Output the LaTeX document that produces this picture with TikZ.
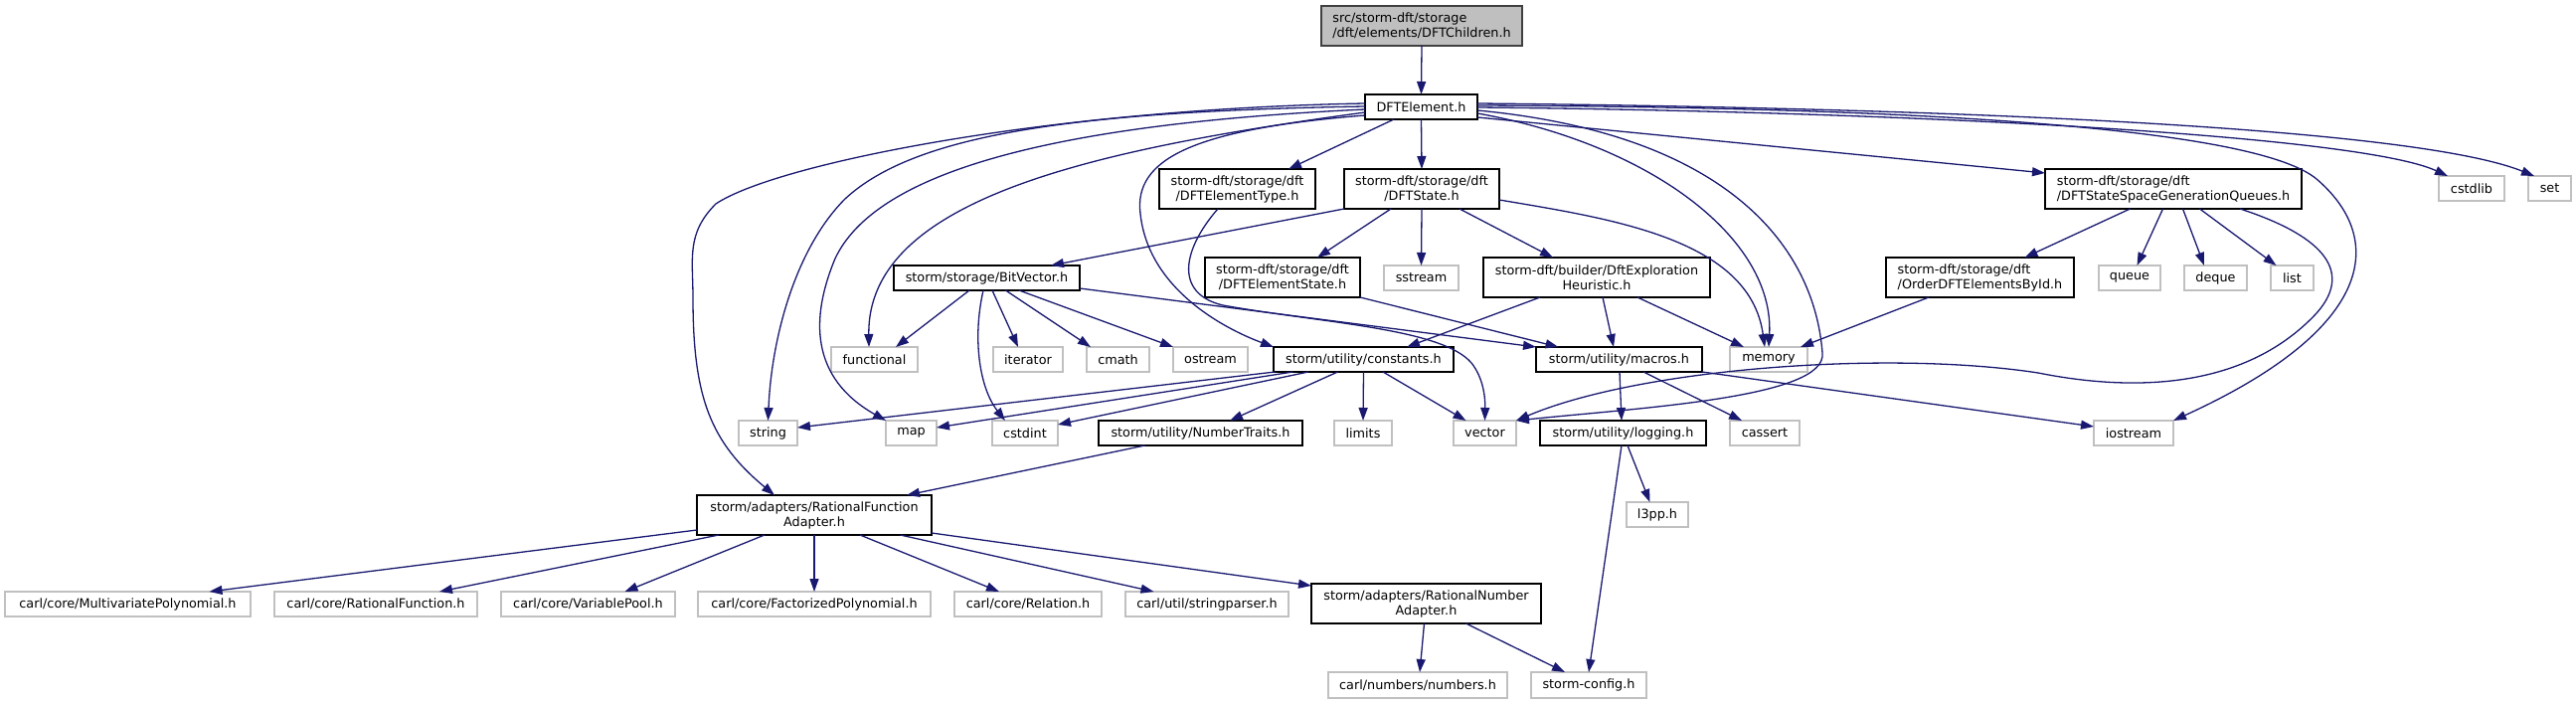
\documentclass[tikz,border=0pt]{standalone}
\usepackage{fontspec}
\setmainfont{DejaVu Sans}
\usetikzlibrary{arrows.meta}
\definecolor{edgec}{HTML}{191970}
\definecolor{grayfill}{HTML}{BFBFBF}
\definecolor{rootborder}{HTML}{404040}
\definecolor{extborder}{HTML}{C0C0C0}
\newcommand{\mkn}[7]{\node[#1, minimum width={#5-#3}, minimum height={#6-#4}] (#2) at ({(#3+#5)/2},{(#4+#6)/2}) {#7};}
\tikzset{
  basebox/.style={rectangle, inner sep=0pt, outer sep=0pt, font=\fontsize{12.8}{15}\selectfont, fill=white, line width=1.3pt},
  doc/.style={basebox, draw=black, align=center},
  docl/.style={basebox, draw=black, align=left},
  ext/.style={basebox, draw=extborder},
  rootn/.style={basebox, draw=rootborder, fill=grayfill, align=left},
  conn/.style={draw=edgec, line width=1.3pt, -{Triangle[length=13pt,width=9pt]}},
}
\begin{document}
\begin{tikzpicture}[x=1pt,y=-1pt]
\useasboundingbox (0,0) rectangle (2591,708);
% nodes
\mkn{rootn}{root}{1329}{6}{1531}{46}{src/storm-dft/storage\\/dft/elements/DFTChildren.h}
\mkn{doc}{elem}{1373}{95}{1486}{120}{DFTElement.h}
\mkn{doc}{etype}{1166}{170}{1323}{210}{storm-dft/storage/dft\\/DFTElementType.h}
\mkn{doc}{state}{1352}{170}{1508}{210}{storm-dft/storage/dft\\/DFTState.h}
\mkn{docl}{queues}{2057}{170}{2315}{210}{storm-dft/storage/dft\\/DFTStateSpaceGenerationQueues.h}
\mkn{ext}{cstdlib}{2453}{177}{2519}{202}{cstdlib}
\mkn{ext}{set}{2543}{177}{2586}{202}{set}
\mkn{doc}{bitvec}{899}{267}{1086}{292}{storm/storage/BitVector.h}
\mkn{doc}{estate}{1212}{259}{1368}{299}{storm-dft/storage/dft\\/DFTElementState.h}
\mkn{ext}{sstream}{1392}{267}{1467}{292}{sstream}
\mkn{doc}{heur}{1492}{259}{1720}{299}{storm-dft/builder/DftExploration\\Heuristic.h}
\mkn{docl}{order}{1897}{259}{2086}{299}{storm-dft/storage/dft\\/OrderDFTElementsById.h}
\mkn{ext}{queue}{2111}{267}{2173}{292}{queue}
\mkn{ext}{deque}{2197}{267}{2260}{292}{deque}
\mkn{ext}{list}{2284}{267}{2327}{292}{list}
\mkn{ext}{functional}{836}{349}{923}{374}{functional}
\mkn{ext}{iterator}{999}{349}{1069}{374}{iterator}
\mkn{ext}{cmath}{1093}{349}{1156}{374}{cmath}
\mkn{ext}{ostream}{1180}{349}{1255}{374}{ostream}
\mkn{doc}{constants}{1281}{349}{1462}{374}{storm/utility/constants.h}
\mkn{doc}{macros}{1545}{349}{1712}{374}{storm/utility/macros.h}
\mkn{ext}{memory}{1740}{349}{1818}{374}{memory}
\mkn{ext}{string}{743}{423}{802}{448}{string}
\mkn{ext}{map}{891}{423}{942}{448}{map}
\mkn{ext}{cstdint}{998}{423}{1064}{448}{cstdint}
\mkn{doc}{numtraits}{1105}{423}{1310}{448}{storm/utility/NumberTraits.h}
\mkn{ext}{limits}{1342}{423}{1400}{448}{limits}
\mkn{ext}{vector}{1462}{423}{1525}{448}{vector}
\mkn{doc}{logging}{1549}{423}{1716}{448}{storm/utility/logging.h}
\mkn{ext}{cassert}{1740}{423}{1810}{448}{cassert}
\mkn{ext}{iostream}{2106}{423}{2186}{448}{iostream}
\mkn{ext}{l3pp}{1636}{505}{1698}{530}{l3pp.h}
\mkn{doc}{rfa}{701}{498}{937}{538}{storm/adapters/RationalFunction\\Adapter.h}
\mkn{ext}{mvp}{5}{595}{252}{620}{carl/core/MultivariatePolynomial.h}
\mkn{ext}{rf}{276}{595}{480}{620}{carl/core/RationalFunction.h}
\mkn{ext}{vp}{504}{595}{679}{620}{carl/core/VariablePool.h}
\mkn{ext}{fp}{702}{595}{936}{620}{carl/core/FactorizedPolynomial.h}
\mkn{ext}{rel}{960}{595}{1108}{620}{carl/core/Relation.h}
\mkn{ext}{sp}{1132}{595}{1296}{620}{carl/util/stringparser.h}
\mkn{doc}{rna}{1319}{587}{1550}{627}{storm/adapters/RationalNumber\\Adapter.h}
\mkn{ext}{numbers}{1336}{676}{1516}{702}{carl/numbers/numbers.h}
\mkn{ext}{config}{1540}{676}{1656}{702}{storm-config.h}
% edges
\draw[conn] (root.south) -- (elem.north);
\draw[conn] ([xshift=-27.5pt]elem.south) -- ([xshift=51.5pt]etype.north);
\draw[conn] (elem.south) -- (state.north);
\draw[conn] ([yshift=-10.5pt]elem.east) -- ([yshift=16pt]queues.west);
\draw[conn] ([yshift=3.5pt]elem.east) .. controls (1900,108) and (2420,125) .. ([xshift=-15.5pt]set.north);
\draw[conn] ([yshift=-0.5pt]elem.east) .. controls (1900,112) and (2370,135) .. ([xshift=-24pt]cstdlib.north);
\draw[conn] ([yshift=1.5pt]elem.east) .. controls (1950,108) and (2270,130) .. (2330,180) .. controls (2400,240) and (2390,330) .. (iostream.north east);
\draw[conn] ([yshift=-3.5pt]elem.east) .. controls (1740,135) and (1825,250) .. (1833,355) .. controls (1838,400) and (1650,410) .. (vector.north east);
\draw[conn] ([yshift=-6.5pt]elem.east) .. controls (1660,145) and (1785,240) .. (memory.north);
\draw[conn] ([yshift=3.5pt]elem.west) .. controls (1050,110) and (780,165) .. (720,205) .. controls (690,235) and (697,260) .. (697,300) .. controls (697,400) and (715,445) .. ([xshift=-40pt]rfa.north);
\draw[conn] ([yshift=0.5pt]elem.west) .. controls (1080,112) and (920,135) .. (850,200) .. controls (800,250) and (776,340) .. (string.north);
\draw[conn] ([yshift=-2.5pt]elem.west) .. controls (1050,125) and (880,175) .. (840,260) .. controls (815,320) and (815,380) .. (map.north west);
\draw[conn] ([yshift=-5.5pt]elem.west) .. controls (1100,150) and (872,200) .. ([xshift=-5.5pt]functional.north);
\draw[conn] ([yshift=-8.5pt]elem.west) .. controls (1200,130) and (1140,160) .. (1147,215) .. controls (1155,290) and (1230,330) .. (constants.north west);
% etype
\draw[conn] ([xshift=-19.5pt]etype.south) .. controls (1190,250) and (1180,295) .. (1230,307) .. controls (1330,325) and (1450,330) .. (1480,365) .. controls (1492,380) and (1494,400) .. (vector.north);
% state
\draw[conn] (state.south west) -- ([xshift=64.5pt]bitvec.north);
\draw[conn] ([xshift=-31pt]state.south) -- ([xshift=35pt]estate.north);
\draw[conn] (state.south) -- (sstream.north);
\draw[conn] ([xshift=38pt]state.south) -- ([xshift=-44pt]heur.north);
\draw[conn] ([yshift=-11pt]state.east) .. controls (1620,220) and (1760,240) .. ([xshift=-4pt]memory.north);
% queues
\draw[conn] ([xshift=-43.5pt]queues.south) -- ([xshift=45pt]order.north);
\draw[conn] ([xshift=-10.5pt]queues.south) -- ([xshift=7.5pt]queue.north);
\draw[conn] ([xshift=9.5pt]queues.south) -- ([xshift=-11.5pt]deque.north);
\draw[conn] ([xshift=26.5pt]queues.south) -- ([xshift=-16pt]list.north);
\draw[conn] ([xshift=67pt]queues.south) .. controls (2330,235) and (2370,270) .. (2330,315) .. controls (2260,390) and (2150,395) .. (2050,375) .. controls (1900,352) and (1650,370) .. (vector.north east);
% bitvector
\draw[conn] ([xshift=-17.5pt]bitvec.south) -- ([xshift=21.5pt]functional.north);
\draw[conn] ([xshift=-3.5pt]bitvec.south) .. controls (978,340) and (985,390) .. ([xshift=-20pt]cstdint.north);
\draw[conn] ([xshift=5.5pt]bitvec.south) -- ([xshift=-10pt]iterator.north);
\draw[conn] ([xshift=19pt]bitvec.south) -- ([xshift=-27.5pt]cmath.north);
\draw[conn] ([xshift=32.5pt]bitvec.south) -- (ostream.north west);
\draw[conn] ([yshift=-10.5pt]bitvec.east) -- (macros.north west);
% estate, heuristic, order
\draw[conn] (estate.south east) -- ([xshift=-61pt]macros.north);
\draw[conn] ([xshift=-57pt]heur.south) -- ([xshift=43.5pt]constants.north);
\draw[conn] ([xshift=6pt]heur.south) -- ([xshift=-5.5pt]macros.north);
\draw[conn] ([xshift=41pt]heur.south) -- ([xshift=-25pt]memory.north);
\draw[conn] ([xshift=-51.5pt]order.south) -- ([xshift=32pt]memory.north);
% constants
\draw[conn] ([xshift=-89pt]constants.south) -- ([yshift=5.5pt]string.east);
\draw[conn] ([xshift=-71pt]constants.south) -- ([yshift=5.5pt]map.east);
\draw[conn] ([xshift=-55.5pt]constants.south) -- ([yshift=8.5pt]cstdint.east);
\draw[conn] ([xshift=-26pt]constants.south) -- ([xshift=29.5pt]numtraits.north);
\draw[conn] (constants.south) -- (limits.north);
\draw[conn] ([xshift=19.5pt]constants.south) -- ([xshift=-19pt]vector.north);
% macros
\draw[conn] ([xshift=0.5pt]macros.south) -- ([xshift=-1.5pt]logging.north);
\draw[conn] ([xshift=24.5pt]macros.south) -- ([xshift=-23pt]cassert.north);
\draw[conn] (macros.south east) -- ([yshift=6.5pt]iostream.west);
% logging
\draw[conn] ([xshift=4.5pt]logging.south) -- ([xshift=-7.5pt]l3pp.north);
\draw[conn] ([xshift=-1.5pt]logging.south) -- (config.north);
% number traits
\draw[conn] ([xshift=-56pt]numtraits.south) -- ([xshift=93pt]rfa.north);
% rfa
\draw[conn] ([yshift=-15pt]rfa.west) -- ([xshift=82pt]mvp.north);
\draw[conn] ([xshift=-96pt]rfa.south) -- ([xshift=64pt]rf.north);
\draw[conn] ([xshift=-50pt]rfa.south) -- ([xshift=37pt]vp.north);
\draw[conn] (rfa.south) -- (fp.north);
\draw[conn] ([xshift=46pt]rfa.south) -- ([xshift=-29pt]rel.north);
\draw[conn] ([xshift=86.5pt]rfa.south) -- ([xshift=-53.5pt]sp.north);
\draw[conn] ([yshift=-18pt]rfa.east) -- ([yshift=18pt]rna.west);
% rna
\draw[conn] ([xshift=-2pt]rna.south) -- ([xshift=2pt]numbers.north);
\draw[conn] ([xshift=40pt]rna.south) -- ([xshift=-24pt]config.north);
\end{tikzpicture}
\end{document}
